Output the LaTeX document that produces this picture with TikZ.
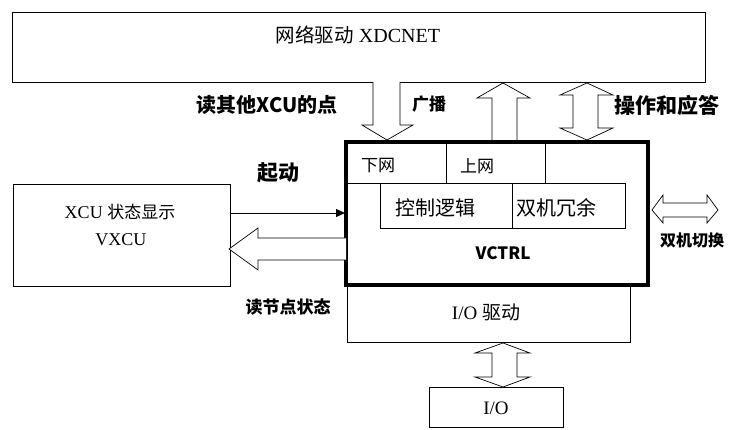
\documentclass[tikz,border=0pt]{standalone}
\usepackage{fontspec}
\setmainfont{Liberation Serif}
\newfontfamily\cjk{Noto Sans CJK SC}
\usetikzlibrary{arrows.meta}
\tikzset{
  box/.style={draw, line width=0.8pt},
  hollow/.style={draw, line width=0.7pt, fill=white, line join=miter},
  txt/.style={inner sep=0pt, font=\fontsize{#1}{#1}\selectfont},
  txt/.default=18,
  ctxt/.style={inner sep=0pt, font=\cjk\fontsize{#1}{#1}\selectfont},
  btxt/.style={inner sep=0pt, font=\cjk\bfseries\fontsize{#1}{#1}\selectfont},
}
\begin{document}
\begin{tikzpicture}[x=1pt,y=-1pt]
\useasboundingbox (0,0) rectangle (731,430);
% top box
\draw[box] (12,12) rectangle (705,82);
\node[txt=20] (net) at (358,35) {{\cjk\fontsize{19.5}{20}\selectfont 网络驱动} XDCNET};
% left box
\draw[box] (13,184) rectangle (230,286);
\node[txt] (xcu) at (120,212) {XCU {\cjk\fontsize{17}{19}\selectfont 状态显示}};
\node[txt] (vxcu) at (121,240) {VXCU};
% I/O driver box
\draw[box] (347,285) rectangle (630,342);
\node[txt=19] (iod) at (486,312) {I/O {\cjk\fontsize{19}{20}\selectfont 驱动}};
% I/O box
\draw[box] (429,387) rectangle (563,427);
\node[txt=19] (io) at (496,408) {I/O};
% VCTRL inner lines
\draw[box] (446,142) -- (446,183);
\draw[box] (545,142) -- (545,183);
\draw[box] (346,183) -- (545,183);
\draw[box] (380,183) rectangle (512,228);
\draw[box] (512,183) rectangle (625,228);
\node[ctxt=17] (xw) at (378,166) {下网};
\node[ctxt=17] (sw) at (477,166) {上网};
\node[ctxt=20] (kz) at (435,208) {控制逻辑};
\node[ctxt=20] (sj) at (556,208) {双机冗余};
\node[btxt=17] (vc) at (503,253) {VCTRL};
% VCTRL thick border
\draw[line width=3.5pt] (346,142) rectangle (648,285);
% thin arrow
\draw[line width=0.8pt, -{Triangle[length=9pt,width=8pt]}] (230,213) -- (345,213);
% hollow left arrow
\draw[hollow] (346,238) -- (258,238) -- (258,228) -- (229,249) -- (258,270) -- (258,260) -- (346,260);
% top arrows
\draw[hollow] (373,82) -- (373,125) -- (362,125) -- (387,140) -- (413,125) -- (400,125) -- (400,82);
\draw[hollow] (492,140) -- (492,98) -- (477,98) -- (503,83) -- (530,98) -- (517,98) -- (517,140);
\draw[hollow] (573,95) -- (573,128) -- (560,128) -- (587,140) -- (613,128) -- (598,128) -- (598,95) -- (613,95) -- (587,83) -- (560,95) -- cycle;
% I/O arrow
\draw[hollow] (492,353) -- (492,377) -- (475,377) -- (503,387) -- (530,377) -- (517,377) -- (517,353) -- (530,353) -- (503,343) -- (475,353) -- cycle;
% right double arrow
\draw[hollow] (663,203) -- (707,203) -- (707,195) -- (718,210) -- (707,223) -- (707,217) -- (663,217) -- (663,223) -- (652,210) -- (663,195) -- cycle;
% labels
\node[btxt=20] (l1) at (267,105) {读其他XCU的点};
\node[btxt=17] (l2) at (429,104) {广播};
\node[btxt=21] (l3) at (667,105) {操作和应答};
\node[btxt=21] (l4) at (278,173) {起动};
\node[btxt=17] (l5) at (288,307) {读节点状态};
\node[btxt=16] (l6) at (692,240) {双机切换};
\end{tikzpicture}
\end{document}
